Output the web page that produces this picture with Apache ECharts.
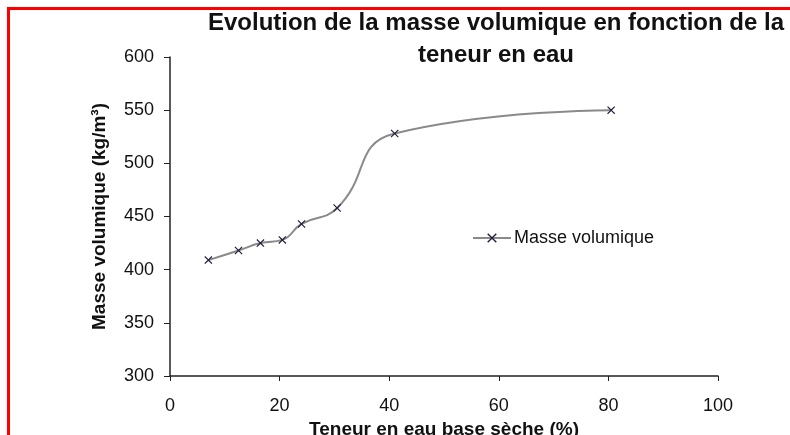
<!DOCTYPE html>
<html>
<head>
<meta charset="utf-8">
<script src="https://cdn.jsdelivr.net/npm/echarts@6/dist/echarts.min.js"></script>
<style>
  html, body { margin: 0; padding: 0; background: #fff; }
  #chart { width: 790px; height: 435px; }
</style>
</head>
<body>
<div id="chart"></div>
<script>
// Moisture content (dry basis, %) and bulk density (kg/m³)
const teneurEau = [7, 12.5, 16.5, 20.5, 24, 30.5, 41, 80.5];
const masseVolumique = [409, 418, 425, 428, 443, 458, 528, 550];
const xTicks = [0, 20, 40, 60, 80, 100];
const yTicks = [300, 350, 400, 450, 500, 550, 600];

const titleText = 'Evolution de la masse volumique en fonction de la\nteneur en eau';
const seriesName = 'Masse volumique';
const xName = 'Teneur en eau base sèche (%)';
const yName = 'Masse volumique (kg/m³)';

const FONT = '"Liberation Sans", Arial, sans-serif';
const crossMarker = 'path://M0,1L1,0L5,4L9,0L10,1L6,5L10,9L9,10L5,6L1,10L0,9L4,5Z';

const chart = echarts.init(document.getElementById('chart'), null, { renderer: 'canvas' });

chart.setOption({
  backgroundColor: '#ffffff',
  animation: false,
  title: {
    text: titleText,
    left: 491,
    top: 2,
    textAlign: 'center',
    textStyle: {
      fontFamily: FONT,
      fontSize: 24,
      fontWeight: 'bold',
      color: '#111',
      lineHeight: 32
    }
  },
  legend: {
    data: [seriesName],
    left: 467,
    top: 224,
    itemWidth: 38,
    itemHeight: 12,
    itemGap: 4,
    textStyle: { fontFamily: FONT, fontSize: 18, color: '#111', padding: [0, 0, 0, -2] }
  },
  grid: { left: 170, right: 72, top: 57, bottom: 59, outerBoundsMode: 'none', containLabel: false },
  xAxis: {
    type: 'value',
    min: xTicks[0],
    max: xTicks[xTicks.length - 1],
    interval: xTicks[1] - xTicks[0],
    name: xName,
    nameLocation: 'middle',
    nameGap: 42,
    nameTextStyle: { fontFamily: FONT, fontSize: 19, fontWeight: 'bold', color: '#111' },
    axisLine: { show: true, lineStyle: { color: '#222', width: 1.5 } },
    axisTick: { show: true, inside: false, length: 5, lineStyle: { color: '#222' } },
    axisLabel: { fontFamily: FONT, fontSize: 18, color: '#111', margin: 21 },
    splitLine: { show: false }
  },
  yAxis: {
    type: 'value',
    min: yTicks[0],
    max: yTicks[yTicks.length - 1],
    interval: yTicks[1] - yTicks[0],
    name: yName,
    nameLocation: 'middle',
    nameRotate: 90,
    nameGap: 61,
    nameTextStyle: { fontFamily: FONT, fontSize: 19, fontWeight: 'bold', color: '#111' },
    axisLine: { show: true, lineStyle: { color: '#222', width: 1.5 } },
    axisTick: { show: true, inside: false, length: 6, lineStyle: { color: '#222' } },
    axisLabel: { fontFamily: FONT, fontSize: 18, color: '#111', margin: 16 },
    splitLine: { show: false }
  },
  series: [{
    name: seriesName,
    type: 'line',
    smooth: 0.5,
    data: teneurEau.map((x, i) => [x, masseVolumique[i]]),
    symbol: crossMarker,
    symbolSize: 8,
    showAllSymbol: true,
    lineStyle: { color: '#8a8a8a', width: 2 },
    itemStyle: { color: '#1c1c3c' }
  }],
  graphic: [{
    type: 'rect',
    shape: { x: 8.5, y: 8.5, width: 900, height: 600 },
    style: { fill: 'none', stroke: '#ff0000', lineWidth: 3 },
    silent: true,
    z: 100
  }]
});
</script>
</body>
</html>
